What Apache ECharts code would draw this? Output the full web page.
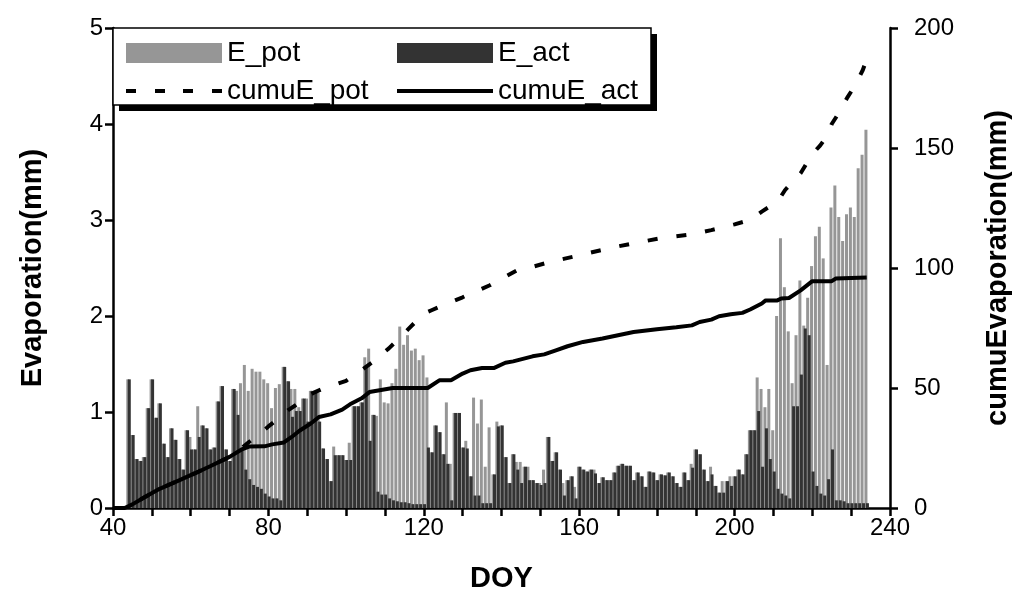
<!DOCTYPE html>
<html><head><meta charset="utf-8">
<script src="https://cdn.jsdelivr.net/npm/echarts/dist/echarts.min.js"></script>
<style>html,body{margin:0;padding:0;background:#fff}#c{width:1014px;height:598px}</style>
</head><body><div id="c"></div>
<script>
const startDay = 44;
const xLabelTicks = [40, 80, 120, 160, 200, 240];
const ePot = [
 1.34,0.76,0.51,0.49,0.53,1.04,1.34,0.94,1.09,0.67,0.53,0.83,0.71,0.51,0.40,0.81,0.74,0.61,1.06,0.86,0.83,0.61,0.63,1.11,1.27,0.61,
 0.49,1.24,1.22,1.30,1.49,1.22,1.45,1.42,1.42,1.34,1.30,1.04,1.25,1.29,1.47,1.32,1.24,1.24,1.05,
 1.14,1.14,1.22,1.20,1.20,0.62,0.51,0.28,0.64,0.55,0.55,0.50,0.68,1.06,1.06,1.10,1.57,1.66,
 0.97,0.96,1.34,1.10,1.09,1.30,1.45,1.89,1.70,1.80,1.64,1.66,1.54,1.59,1.36,
 0.58,0.86,0.79,0.56,1.10,0.46,0.99,0.99,0.63,0.70,0.33,1.15,0.88,1.13,0.43,0.84,0.35,0.90,
 0.86,0.53,0.26,0.56,0.48,0.48,0.43,0.43,0.29,0.26,0.26,0.40,0.74,0.49,0.58,0.40,0.26,0.29,0.33,0.22,0.43,0.40,0.38,0.40,0.40,
 0.26,0.32,0.29,0.29,0.37,0.44,0.46,0.44,0.44,0.29,0.37,0.33,0.22,0.38,0.37,0.29,0.35,0.34,0.37,0.33,0.26,0.22,0.37,0.29,
 0.46,0.61,0.56,0.40,0.28,0.43,0.23,0.16,0.28,0.28,0.33,0.33,0.40,0.35,0.56,0.81,0.81,1.36,1.24,1.05,1.24,0.81,2.00,2.81,2.30,
 1.84,1.30,1.80,2.37,1.90,2.19,2.52,2.83,2.93,2.60,1.49,3.13,3.36,3.03,2.78,3.06,3.13,3.03,3.54,3.68,3.94
];
const eAct = [
 1.34,0.76,0.51,0.49,0.53,1.04,1.34,0.94,1.09,0.67,0.53,0.83,0.71,0.51,0.40,0.81,0.61,0.61,0.74,0.86,0.83,0.61,0.63,1.11,1.27,0.61,
 0.49,1.24,0.97,0.60,0.40,0.30,0.24,0.22,0.20,0.15,0.12,0.10,0.10,0.08,1.47,1.32,0.95,1.01,1.01,
 1.14,0.90,1.22,1.20,0.90,0.62,0.51,0.28,0.55,0.55,0.55,0.50,0.50,1.06,1.06,1.10,1.49,0.70,
 0.97,0.17,0.14,0.14,0.10,0.08,0.07,0.06,0.06,0.05,0.04,0.04,0.04,0.04,0.63,
 0.58,0.86,0.79,0.56,0.46,0.08,0.99,0.99,0.63,0.62,0.33,0.13,0.13,0.05,0.05,0.05,0.35,0.85,
 0.86,0.53,0.26,0.56,0.40,0.26,0.43,0.29,0.29,0.26,0.24,0.26,0.74,0.49,0.58,0.40,0.13,0.29,0.33,0.10,0.43,0.40,0.38,0.40,0.36,
 0.26,0.32,0.29,0.29,0.37,0.44,0.46,0.44,0.44,0.29,0.37,0.33,0.22,0.38,0.37,0.29,0.35,0.34,0.37,0.33,0.26,0.22,0.37,0.29,
 0.42,0.61,0.56,0.40,0.28,0.35,0.23,0.16,0.16,0.28,0.23,0.33,0.40,0.35,0.56,0.81,0.81,1.01,0.43,0.83,0.51,0.38,0.20,0.15,0.13,
 0.10,1.06,1.06,1.39,1.87,1.80,0.38,0.23,0.15,0.13,0.30,0.61,0.08,0.08,0.07,0.05,0.05,0.05,0.05,0.05,0.05
];
const cumuPotDays = [40,43,45,48,52,57,61,65,70,73,75,78,80,83,85,87,90,92,95,97,100,102,104,107,109,111,114,116,118,120,122,126,130,133,137,140,144,148,152,156,160,165,170,174,181,189,194,197,200,204,207,209,211,213,215,217,220,222,224,225,227,229,231,233,234];
const cumuPotVals = [0,0,1.5,4.4,8.0,11.5,14.4,17.4,21.3,24.8,27.5,31.2,34.0,37.8,40.7,42.8,46.5,48.3,50.4,51.3,53.0,55.3,57.5,61.0,63.9,66.5,71.2,74.5,77.8,81.0,82.4,85.2,87.8,90.0,92.8,95.5,99.0,100.5,102.3,103.8,105.3,107.2,109.0,110.3,112.4,114.0,115.8,117.0,118.2,120.0,123.5,125.6,127.5,132.5,136.0,139.5,147.5,151.0,155.5,160.0,165.0,171.0,176.0,182.5,187.0];
const cumuActDays = [40,43,45,48,52,57,61,65,70,73,75,79,81,84,86,88,91,93,96,99,101,104,106,109,112,121,124,127,130,132,135,138,141,143,148,151,154,157,161,166,170,174,180,185,189,191,194,196,199,202,204,207,208,211,212,214,217,220,225,226,234];
const cumuActVals = [0,0,1.5,4.4,8.0,11.5,14.4,17.4,21.3,24.3,25.6,25.7,26.5,27.3,29.6,32.2,35.3,37.9,39.0,41.0,43.2,45.7,48.3,49.2,50.0,50.0,53.2,53.2,56.0,57.4,58.3,58.3,60.5,61.1,63.2,64.0,65.7,67.4,69.2,70.6,72.0,73.3,74.5,75.3,76.1,77.5,78.5,79.9,80.7,81.3,82.7,85.2,86.5,86.5,87.3,87.5,90.7,94.5,94.5,95.6,96.0];

const FONT = 'Liberation Sans';
const potData = ePot.map((v, i) => [startDay + i, v]);
const actData = eAct.map((v, i) => [startDay + i, v]);
const cumuPot = cumuPotDays.map((d, i) => [d, cumuPotVals[i]]);
const cumuAct = cumuActDays.map((d, i) => [d, cumuActVals[i]]);

const axisLine = {show: true, onZero: false, lineStyle: {color: '#000', width: 2.5}};
const axisTick = {show: true, inside: false, length: 8, lineStyle: {color: '#000', width: 2.5}};
const lab = {color: '#000', fontSize: 24, fontFamily: FONT};
const nameStyle = {color: '#000', fontSize: 29, fontWeight: 'bold', fontFamily: FONT};
const legText = {fontSize: 28, color: '#000', fontFamily: FONT};
const dashIcon = 'path://M0,0h10v4h-10z M29,0h10v4h-10z M57,0h10v4h-10z M86,0h10v4h-10z';

function leg(left, top, h, item) {
  return {left, top, orient: 'horizontal', itemWidth: 96, itemHeight: h, z: 10,
          selectedMode: false, textStyle: legText, data: [item]};
}

const chart = echarts.init(document.getElementById('c'), null, {renderer: 'canvas'});
chart.setOption({
  animation: false,
  backgroundColor: '#fff',
  grid: {left: 113, right: 124, top: 28, bottom: 90, containLabel: false, outerBoundsMode: 'none'},
  xAxis: {
    type: 'value', min: 40, max: 240, interval: 10,
    axisLine, axisTick,
    axisLabel: Object.assign({margin: 8, formatter: v => xLabelTicks.includes(v) ? String(v) : ''}, lab),
    splitLine: {show: false},
    name: 'DOY', nameLocation: 'middle', nameGap: 56, nameTextStyle: nameStyle
  },
  yAxis: [
    {type: 'value', min: 0, max: 5, interval: 1, position: 'left',
     axisLine, axisTick, axisLabel: Object.assign({margin: 10}, lab), splitLine: {show: false},
     name: 'Evaporation(mm)', nameLocation: 'middle', nameGap: 66, nameRotate: 90, nameTextStyle: nameStyle},
    {type: 'value', min: 0, max: 200, interval: 50, position: 'right',
     axisLine, axisTick, axisLabel: Object.assign({margin: 24}, lab), splitLine: {show: false},
     name: 'cumuEvaporation(mm)', nameLocation: 'middle', nameGap: 93, nameRotate: 90, nameTextStyle: nameStyle}
  ],
  graphic: [
    {type: 'rect', z: 5, shape: {x: 119, y: 34, width: 538, height: 77}, style: {fill: '#000'}},
    {type: 'rect', z: 5, shape: {x: 113, y: 28, width: 538, height: 77}, style: {fill: '#fff', stroke: '#000', lineWidth: 1.5}}
  ],
  legend: [
    leg(121, 34, 20, {name: 'E_pot', icon: 'rect'}),
    leg(392, 34, 20, {name: 'E_act', icon: 'rect'}),
    leg(121, 72, 4, {name: 'cumuE_pot', icon: dashIcon}),
    leg(392, 72, 4, {name: 'cumuE_act', icon: 'rect'})
  ],
  series: [
    {type: 'bar', name: 'E_pot', data: potData, barWidth: 3, barGap: '-50%',
     itemStyle: {color: '#969696'}, emphasis: {disabled: true}, z: 2},
    {type: 'bar', name: 'E_act', data: actData, barWidth: 3, barGap: '-50%',
     itemStyle: {color: '#333333'}, emphasis: {disabled: true}, z: 2},
    {type: 'line', name: 'cumuE_pot', yAxisIndex: 1, data: cumuPot, symbol: 'none', showSymbol: false,
     itemStyle: {color: '#000'}, lineStyle: {color: '#000', width: 4, type: [10, 19], cap: 'butt'}, z: 3},
    {type: 'line', name: 'cumuE_act', yAxisIndex: 1, data: cumuAct, symbol: 'none', showSymbol: false,
     itemStyle: {color: '#000'}, lineStyle: {color: '#000', width: 4}, z: 4}
  ]
});
</script>
</body></html>
